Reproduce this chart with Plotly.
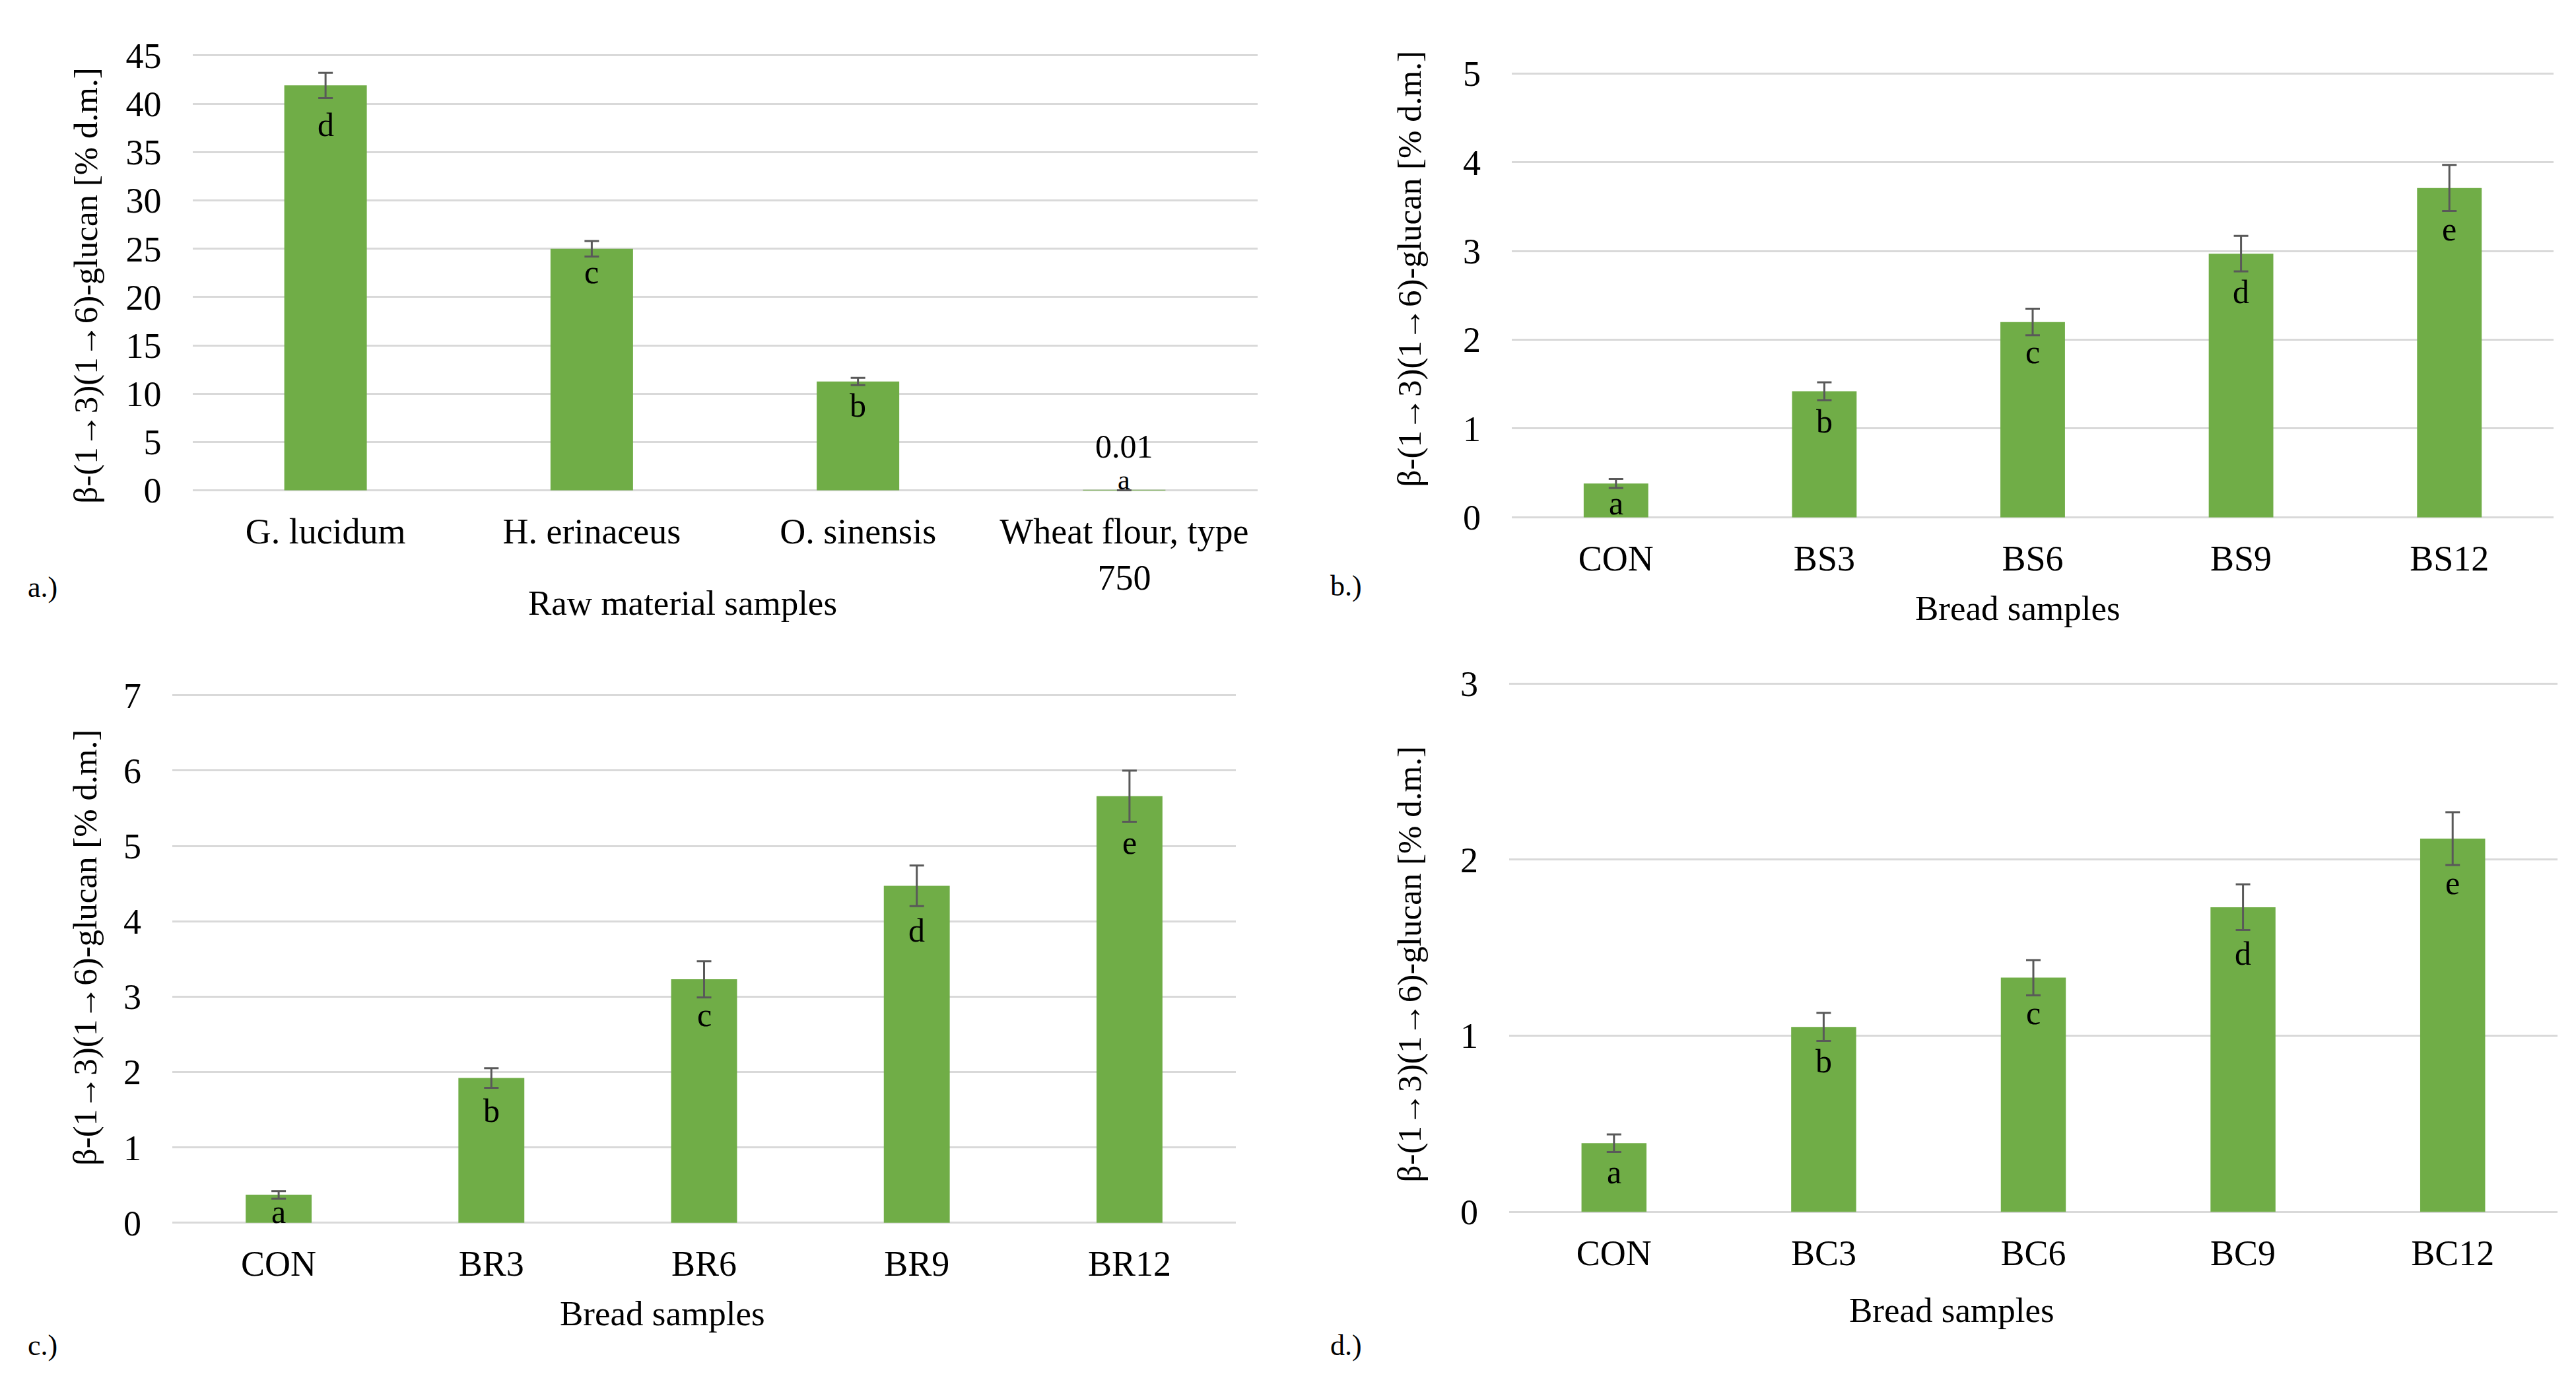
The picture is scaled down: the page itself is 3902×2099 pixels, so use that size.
import plotly.graph_objects as go

W, H = 3902, 2099

# ---------------- data ----------------
a_cats = ["G. lucidum", "H. erinaceus", "O. sinensis", "Wheat flour, type<br>750"]
a_vals = [41.9, 25.0, 11.26, 0.01]
a_errs = [1.3, 0.8, 0.38, 0.0]
a_letters = ["d", "c", "b", "a"]

b_cats = ["CON", "BS3", "BS6", "BS9", "BS12"]
b_vals = [0.38, 1.42, 2.20, 2.97, 3.71]
b_errs = [0.05, 0.10, 0.15, 0.20, 0.26]
b_letters = ["a", "b", "c", "d", "e"]

c_cats = ["CON", "BR3", "BR6", "BR9", "BR12"]
c_vals = [0.37, 1.92, 3.23, 4.47, 5.66]
c_errs = [0.05, 0.13, 0.24, 0.27, 0.34]
c_letters = ["a", "b", "c", "d", "e"]

d_cats = ["CON", "BC3", "BC6", "BC9", "BC12"]
d_vals = [0.39, 1.05, 1.33, 1.73, 2.12]
d_errs = [0.05, 0.08, 0.10, 0.13, 0.15]
d_letters = ["a", "b", "c", "d", "e"]

y_title = "β-(1→3)(1→6)-glucan [% d.m.]"

# ---------------- styles / layout (pixels) ----------------
GREEN = "#70AD47"
GRID = "#D9D9D9"
ERR = "#595959"
FONT = "Liberation Serif"

panels = [
    dict(cats=a_cats, vals=a_vals, errs=a_errs, letters=a_letters, ymax=45, dtick=5,
         px=(283.5, 1896.5), py=(48, 728), offs=[60, 35, 36, None],
         ytitle=(122, 408), xtitle="Raw material samples", xt=(1026, 902), tag="a.)", tagpos=(56, 878)),
    dict(cats=b_cats, vals=b_vals, errs=b_errs, letters=b_letters, ymax=5, dtick=1,
         px=(2282, 3860), py=(76, 770), offs=[30, 46, 45, 58, 62],
         ytitle=(2127, 382), xtitle="Bread samples", xt=(3048, 910), tag="b.)", tagpos=(2031, 876)),
    dict(cats=c_cats, vals=c_vals, errs=c_errs, letters=c_letters, ymax=7, dtick=1,
         px=(253, 1864), py=(1044, 1869), offs=[25, 49, 54, 67, 70],
         ytitle=(121, 1439), xtitle="Bread samples", xt=(995, 2008), tag="c.)", tagpos=(56, 2058)),
    dict(cats=d_cats, vals=d_vals, errs=d_errs, letters=d_letters, ymax=3, dtick=1,
         px=(2278, 3866), py=(1026, 1852), offs=[44, 52, 53, 70, 67],
         ytitle=(2127, 1465), xtitle="Bread samples", xt=(2948, 2003), tag="d.)", tagpos=(2031, 2058)),
]

fig = go.Figure()
annotations = []
layout = dict(
    width=W, height=H, margin=dict(l=0, r=0, t=0, b=0),
    paper_bgcolor="white", plot_bgcolor="white", showlegend=False,
    font=dict(family=FONT, color="black"),
)


def fx(x):
    return x / W


def fy(y):
    return 1 - y / H


for i, p in enumerate(panels, start=1):
    sx = "" if i == 1 else str(i)
    fig.add_trace(go.Bar(
        x=p["cats"], y=p["vals"], xaxis="x" + sx, yaxis="y" + sx,
        marker=dict(color=GREEN, line=dict(width=0)), width=0.31,
        error_y=dict(type="data", array=p["errs"], visible=True,
                     color=ERR, thickness=3, width=11),
        hoverinfo="skip",
    ))
    pad = p["ymax"] * 0.002
    layout["xaxis" + sx] = dict(
        domain=[fx(p["px"][0]), fx(p["px"][1])], anchor="y" + sx,
        showgrid=False, showline=False, zeroline=False, ticks="",
        tickfont=dict(size=54, family=FONT, color="black"),
        ticklabelstandoff=24, fixedrange=True,
    )
    layout["yaxis" + sx] = dict(
        domain=[fy(p["py"][1]), fy(p["py"][0])], anchor="x" + sx,
        range=[-pad, p["ymax"] + pad], dtick=p["dtick"], tick0=0,
        showgrid=True, gridcolor=GRID, gridwidth=3,
        showline=False, zeroline=False, ticks="",
        tickfont=dict(size=54, family=FONT, color="black"),
        ticklabelstandoff=46, fixedrange=True,
    )
    # significance letters
    for cat, v, lt, off in zip(p["cats"], p["vals"], p["letters"], p["offs"]):
        if off is None:
            annotations.append(dict(x=cat, y=v, xref="x" + sx, yref="y" + sx, text="0.01",
                                    showarrow=False, yshift=66, font=dict(size=50, family=FONT)))
            annotations.append(dict(x=cat, y=v, xref="x" + sx, yref="y" + sx, text=lt,
                                    showarrow=False, yshift=15, font=dict(size=42, family=FONT)))
        else:
            annotations.append(dict(x=cat, y=v, xref="x" + sx, yref="y" + sx, text=lt,
                                    showarrow=False, yshift=-off, font=dict(size=50, family=FONT)))
    # y title
    annotations.append(dict(x=fx(p["ytitle"][0]), y=fy(p["ytitle"][1]), xref="paper", yref="paper",
                            text=y_title, textangle=-90, showarrow=False,
                            xanchor="center", yanchor="middle",
                            font=dict(size=51, family=FONT)))
    # x title
    annotations.append(dict(x=fx(p["xt"][0]), y=fy(p["xt"][1]), xref="paper", yref="paper",
                            text=p["xtitle"], showarrow=False, xanchor="center", yanchor="middle",
                            font=dict(size=53, family=FONT)))
    # panel tag
    annotations.append(dict(x=fx(p["tagpos"][0]), y=fy(p["tagpos"][1]), xref="paper", yref="paper",
                            text=p["tag"], showarrow=False, xanchor="center", yanchor="middle",
                            font=dict(size=44, family=FONT)))

layout["annotations"] = annotations
fig.update_layout(**layout)
fig.write_html("out.html")
